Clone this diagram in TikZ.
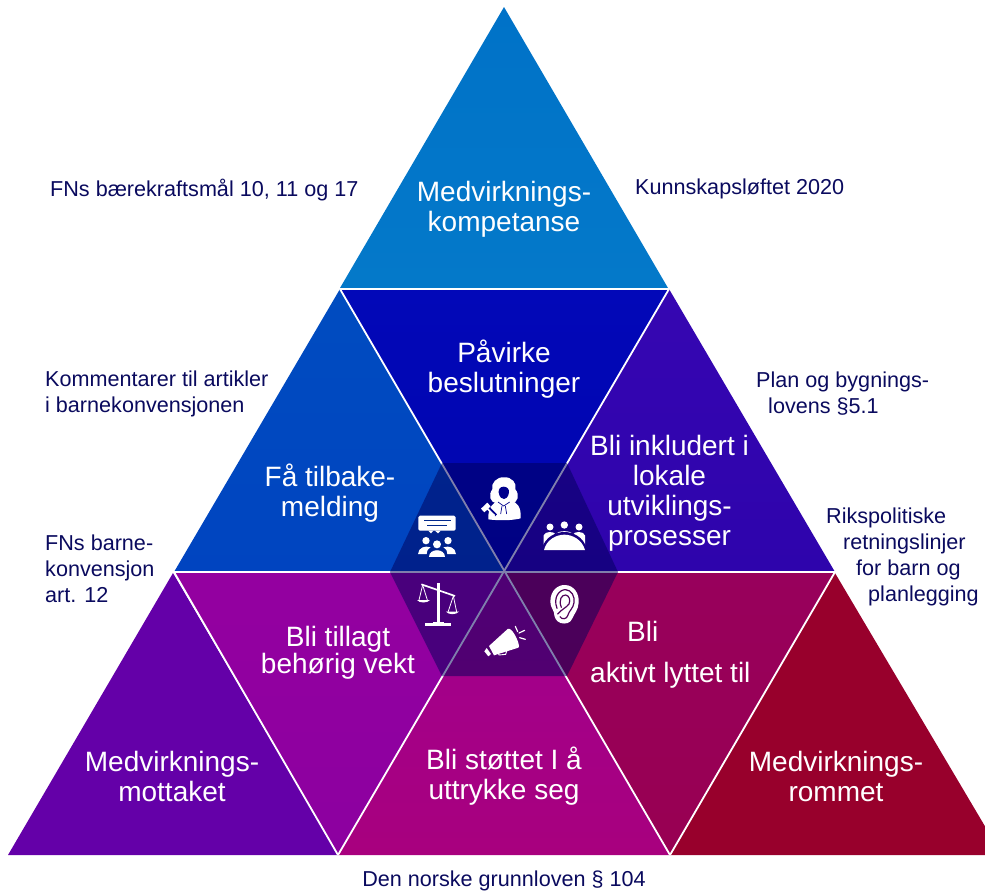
\documentclass[tikz,border=0pt]{standalone}
\usepackage{fontspec}
\setmainfont{Liberation Sans}
\definecolor{navytext}{HTML}{0A0A5E}
\definecolor{hexc}{HTML}{00005A}
\definecolor{cTopA}{HTML}{0072C8}
\definecolor{cTopB}{HTML}{0479C9}
\definecolor{cPavA}{HTML}{0208B8}
\definecolor{cPavB}{HTML}{0004AE}
\definecolor{cFaA}{HTML}{004CC0}
\definecolor{cFaB}{HTML}{0044C0}
\definecolor{cInkA}{HTML}{3606B2}
\definecolor{cInkB}{HTML}{2E04AC}
\definecolor{cTilA}{HTML}{9400A0}
\definecolor{cTilB}{HTML}{8C00A0}
\definecolor{cStoA}{HTML}{A00090}
\definecolor{cStoB}{HTML}{A8007E}
\definecolor{cAktA}{HTML}{98005C}
\definecolor{cAktB}{HTML}{980052}
\definecolor{cMot}{HTML}{6400A8}
\definecolor{cRom}{HTML}{98002C}
\definecolor{earline}{HTML}{50005A}
\definecolor{judgeline}{HTML}{00008C}
\definecolor{bubbleline}{HTML}{00288C}
\definecolor{meetline}{HTML}{180080}
\tikzset{
  sep/.style={draw=white,line width=1.8pt},
  big/.style={text=white,font=\fontsize{28}{30}\selectfont,align=center,inner sep=0pt},
  bigl/.style={text=white,font=\fontsize{28}{30}\selectfont,align=left,inner sep=0pt,anchor=west},
  lab/.style={text=navytext,font=\fontsize{21.6}{26}\selectfont,align=left,inner sep=0pt,anchor=west},
  ico/.style={fill=white,draw=none},
  icoline/.style={draw=white,line width=1.2pt,line cap=round},
}
\begin{document}
\begin{tikzpicture}[x=1pt,y=-1pt]
\useasboundingbox (0,0) rectangle (985,892);
\clip (0,0) rectangle (985,892);
% triangles
\shade[top color=cTopA,bottom color=cTopB] (504,7) -- (668,288) -- (340,288) -- cycle;
\shade[top color=cPavA,bottom color=cPavB] (340,289) -- (669,289) -- (504.5,572) -- cycle;
\shade[top color=cFaA,bottom color=cFaB] (340,289) -- (504.5,572) -- (174,572) -- cycle;
\shade[top color=cInkA,bottom color=cInkB] (669,289) -- (835,572) -- (504.5,572) -- cycle;
\shade[top color=cTilA,bottom color=cTilB] (174,572) -- (504.5,572) -- (338,855) -- cycle;
\shade[top color=cStoA,bottom color=cStoB] (504.5,572) -- (670,855) -- (338,855) -- cycle;
\shade[top color=cAktA,bottom color=cAktB] (504.5,572) -- (835,572) -- (670,855) -- cycle;
\fill[cMot] (173,573) -- (338,855) -- (8,855) -- cycle;
\fill[cRom] (835,573) -- (1002,855) -- (670,855) -- cycle;
% white separators
\draw[sep] (340,289) -- (668,289);
\draw[sep] (174,572) -- (835,572);
\draw[sep] (340,289) -- (670,855);
\draw[sep] (669,289) -- (338,855);
\draw[sep] (174,572) -- (338,855);
\draw[sep] (835,572) -- (670,855);
% central hexagon
\fill[hexc,fill opacity=.5] (390,572) -- (442,463) -- (567,463) -- (618,572) -- (567,676) -- (442,676) -- cycle;
% icons, in 3x crop coordinates
\begin{scope}[shift={(370,450)},scale=1/3]
  % judge
  \fill[ico] (355,208) .. controls (353,170) and (372,158) .. (385,150) -- (420,150) .. controls (442,158) and (454,170) .. (452,205) .. controls (425,212) and (385,212) .. (355,208) -- cycle;
  \fill[ico] (402,82) .. controls (425,80) and (442,100) .. (436,118) .. controls (450,135) and (444,158) .. (425,160) -- (380,160) .. controls (360,158) and (354,135) .. (367,118) .. controls (362,100) and (380,80) .. (402,82) -- cycle;
  \fill[judgeline] (401,110) .. controls (412,110) and (418,118) .. (417,128) .. controls (414,142) and (408,147) .. (402,147) .. controls (395,147) and (389,142) .. (386,128) .. controls (385,118) and (390,110) .. (401,110) -- cycle;
  \fill[ico] (392,146) rectangle (412,158);
  \draw[judgeline,line width=.7pt] (384,156) -- (401,168) -- (419,156);
  \draw[judgeline,line width=.7pt] (396,168) -- (392,192);
  \draw[judgeline,line width=.7pt] (406,168) -- (410,192);
  \draw[judgeline,line width=2.6pt] (352,170) -- (378,196);
  \draw[white,line width=1.5pt] (348,172) -- (374,197);
  \fill[ico] (333,176) -- (352,158) -- (362,169) -- (343,187) -- cycle;
  % meeting
  \fill[ico] (540,231) circle (10.5);
  \fill[ico] (583,225) circle (11);
  \fill[ico] (627,231) circle (10.5);
  \fill[ico] (521,288) -- (521,256) .. controls (525,243) and (553,243) .. (558,254) .. controls (560,240) and (606,240) .. (608,254) .. controls (613,243) and (641,243) .. (645,256) -- (645,288) -- cycle;
  \fill[meetline] (514,300) .. controls (525,258) and (560,246) .. (583,246) .. controls (606,246) and (641,258) .. (652,300) -- cycle;
  \fill[ico] (522,300) .. controls (530,268) and (560,254) .. (583,254) .. controls (606,254) and (636,268) .. (645,300) -- cycle;
  % speech and audience
  \fill[ico,rounded corners=1.5pt] (145,197) rectangle (257,242);
  \fill[ico] (175,242) -- (190,242) -- (183,250) -- cycle;
  \fill[ico] (195,242) -- (212,242) -- (204,250) -- cycle;
  \draw[bubbleline,line width=.8pt] (163,212) -- (243,212);
  \draw[bubbleline,line width=.8pt] (172,226) -- (232,226);
  \fill[ico] (168,272) circle (11);
  \fill[ico] (234,272) circle (11);
  \fill[ico] (201,283) circle (12);
  \fill[ico] (144,312) .. controls (146,292) and (165,286) .. (182,292) .. controls (172,298) and (170,304) .. (170,312) -- cycle;
  \fill[ico] (258,312) .. controls (256,292) and (237,286) .. (220,292) .. controls (230,298) and (232,304) .. (232,312) -- cycle;
  \fill[ico] (176,322) .. controls (176,295) and (226,295) .. (226,322) -- cycle;
  % scales
  \fill[ico] (200,400) rectangle (210,515);
  \fill[ico] (188,515) rectangle (222,521);
  \fill[ico] (165,520) rectangle (243,527);
  \draw[white,line width=1.7pt] (154,403) -- (255,438);
  \draw[white,line width=.8pt] (158,405) -- (147,450);
  \draw[white,line width=.8pt] (158,405) -- (172,450);
  \draw[white,line width=.8pt] (250,438) -- (234,486);
  \draw[white,line width=.8pt] (250,438) -- (260,486);
  \fill[ico] (141,450) .. controls (148,460) and (172,460) .. (180,450) -- cycle;
  \fill[ico] (228,485) .. controls (236,495) and (258,495) .. (267,485) -- cycle;
  % megaphone
  \fill[ico] (357,588) -- (413,537) .. controls (425,530) and (445,570) .. (447,588) .. controls (447,592) and (445,594) .. (442,594) -- (372,616) -- cycle;
  \fill[ico] (343,604) -- (350,594) -- (363,612) -- (355,619) -- cycle;
  \draw[white,line width=.9pt] (384,606) -- (387,615) -- (407,613) -- (411,600);
  \draw[icoline] (436,529) -- (443,545);
  \draw[icoline] (447,549) -- (464,541);
  \draw[icoline] (449,563) -- (466,568);
  % ear
  \fill[ico] (541,455) .. controls (541,420) and (565,404) .. (585,405) .. controls (612,406) and (628,430) .. (626,458) .. controls (625,480) and (612,492) .. (607,505) .. controls (602,520) and (585,523) .. (572,519) .. controls (558,515) and (552,500) .. (552,488) .. controls (550,480) and (541,470) .. (541,455) -- cycle;
  \draw[earline,line width=1.2pt,line cap=round] (561,475) .. controls (548,440) and (570,418) .. (587,419) .. controls (605,420) and (615,440) .. (612,458) .. controls (610,475) and (597,482) .. (593,497) .. controls (591,507) and (575,510) .. (570,500);
  \draw[earline,line width=1.2pt,line cap=round] (574,472) .. controls (565,450) and (575,434) .. (587,435) .. controls (598,437) and (602,450) .. (597,462) .. controls (590,472) and (575,478) .. (563,492);
\end{scope}
% triangle texts
\node[big] (kompetanse) at (504,209) {Medvirknings-\\kompetanse};
\node[big] (pavirke) at (504,369) {Påvirke\\beslutninger};
\node[big] (tilbake) at (330,493) {Få tilbake-\\melding};
\node[big] (inkludert) at (669.5,493) {Bli inkludert i\\lokale\\utviklings-\\prosesser};
\node[big,font=\fontsize{28}{27}\selectfont] (tillagt) at (338,653) {Bli tillagt\\behørig vekt};
\node[big] (stottet) at (504,776) {Bli støttet I å\\uttrykke seg};
\node[bigl] (bli) at (627,631) {Bli};
\node[bigl] (lyttet) at (590,675) {aktivt lyttet til};
\node[big] (mottaket) at (172,776) {Medvirknings-\\mottaket};
\node[big] (rommet) at (836,776) {Medvirknings-\\rommet};
% outer labels
\node[lab] (fnsmaal) at (50,190) {FNs bærekraftsmål 10, 11 og 17};
\node[lab] (kunnskap) at (635,189) {Kunnskapsløftet 2020};
\node[lab] (kommentar) at (45,394) {Kommentarer til artikler\\i barnekonvensjonen};
\node[lab] (plan) at (756,394) {Plan og bygnings-\\\hspace*{12pt}lovens §5.1};
\node[lab] (barnekonv) at (45,569) {FNs barne-\\konvensjon\\art. 12};
\node[lab] (rikspol) at (826,557) {Rikspolitiske\\\hspace*{17pt}retningslinjer\\\hspace*{30pt}for barn og\\\hspace*{42pt}planlegging};
\node[lab,anchor=center] (grunnlov) at (504,881) {Den norske grunnloven § 104};
\end{tikzpicture}
\end{document}
